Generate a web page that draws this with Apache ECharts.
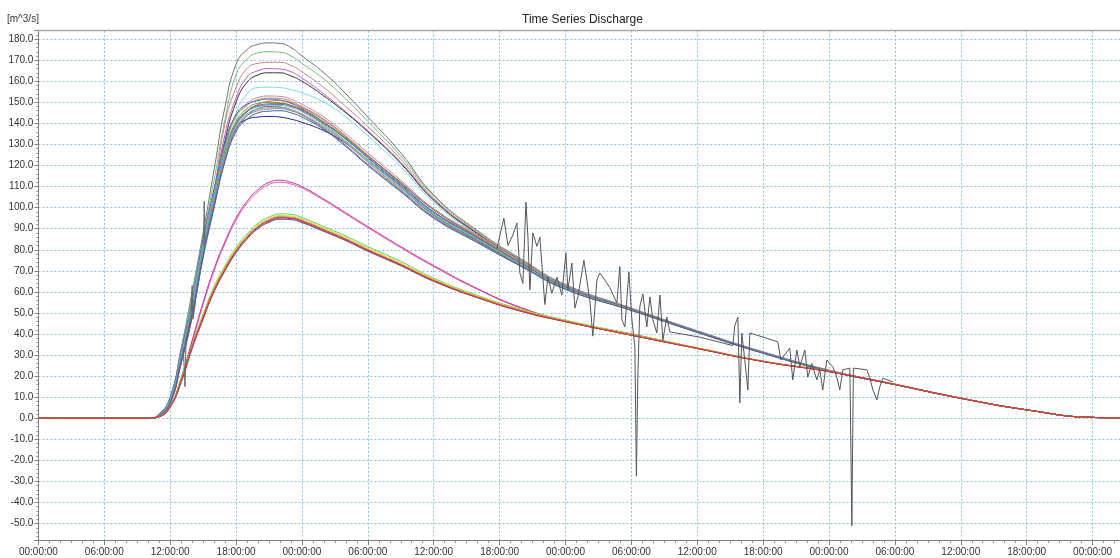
<!DOCTYPE html>
<html>
<head>
<meta charset="utf-8">
<script src="https://cdn.jsdelivr.net/npm/echarts@6/dist/echarts.min.js"></script>
<style>
html,body{margin:0;padding:0;background:#fff;}
#chart{width:1120px;height:558px;}
</style>
</head>
<body>
<div id="chart"></div>
<script>
// time in hours from start
const hours = [0,10,11,12,13,14,15,16,17,18,19,20,21,22,23,24,26,28,30,33,36,40,44,48,54,60,66,72,78,84,90,96,98.5];

// upper curves
const up178 = [0,0,2,10,33,60,88,118,148,168,175,177.5,178.2,178,176,172,164,154,143,126,106,89,75.5,63.5,52.3,41.5,31.5,22.8,16.2,9.6,4,0.4,0.2];
const up174 = [0,0,2,10,33,59,86,113,142,163,170.5,173.5,174,173.8,172,168.5,161,151.5,141,124.5,105.5,88.5,75.3,63.3,52.2,41.4,31.4,22.7,16.1,9.5,4,0.4,0.2];
const up169 = [0,0,1.5,9,31,56,83,108,140,157,166,168.5,169,169,167.5,164.5,157,148,138.5,123,104.5,88,75,63,52,41.3,31.3,22.7,16.1,9.5,4,0.4,0.2];
const up166 = [0,0,1.5,9,30,54,81,106,135,152,162,165,166,165.8,164.5,161.5,154,145.5,136.5,121.5,104,87.8,74.8,63,52,41.3,31.3,22.7,16.1,9.5,4,0.4,0.2];
const up164 = [0,0,1.3,8.5,29,53,80,105,132,150,159.5,163,164,164,162.5,160,153,145,136,121,103.5,87.5,74.5,62.8,51.9,41.2,31.2,22.6,16,9.5,4,0.4,0.2];
const up157 = [0,0,1.5,9,29,53,79,103,128,145,154,157,157.2,157,156,154.5,150,143,134,119.5,102.5,87,74.3,62.7,51.8,41.1,31.1,22.6,16,9.5,4,0.4,0.2];
const up143 = [0,0,1.4,8,28,50,79,104,126,137.5,142,143,143.3,143,142,140.5,136.5,130.5,122.5,110,96.5,84.5,72.5,61.7,51.5,41,31,22.5,16,9.5,4,0.4,0.2];

// main cluster
const main1  = [0,0,1.8,9,30,53,82,107,130,144,149.5,152.3,153,152.8,151.5,149,143,135,126,113,99.5,87,74.5,63,52,41.5,31.5,22.8,16.2,9.6,4,0.4,0.2];
const main2  = [0,0,1.5,8,29,52,81,106,129,143,148.5,151.3,152,151.8,150.5,148,142,134,125,112,99,86.5,74,62.5,52,41.3,31.3,22.7,16.1,9.5,4,0.4,0.2];
const main3  = [0,0,2,10,32,56,85,109,131,144,149,150.8,151.5,151,149.5,147,140.5,132.5,123.5,110.5,97.5,85.5,73.5,62.3,51.8,41.2,31.2,22.6,16,9.5,4,0.4,0.2];
const main4  = [0,0,1.2,7,26,48,77,102,125,139,145.5,149,150.5,150.8,149.8,147.5,141.5,133.5,124.5,111.5,98,86,73.5,62,51.7,41,31,22.5,16,9.5,4,0.4,0.2];
const main5  = [0,0,1.5,8,28,51,80,105,127,141,147,149.5,150,149.7,148.5,146,139.5,131.5,122.5,109.5,96.5,84.5,72.8,61.8,51.5,41,31,22.5,16,9.5,4,0.4,0.2];
const main6  = [0,0,1.3,7.5,27,49,78,103,126,140,146,148.5,149.3,149.5,148.5,146.5,140.5,133,124.5,112,99,86,73.5,62,51.6,41,31,22.5,16,9.5,4,0.4,0.2];
const main7  = [0,0,1.6,8.5,29,52,80,104,126,139.5,145.5,148,148.8,149,148,146,140,132.5,123.8,111,98,85.5,73.2,62,51.5,41,31,22.5,16,9.5,4,0.4,0.2];
const main8  = [0,0,1.4,8,27.5,50,78,102,124,138,144,147,148.2,148.5,147.5,145.5,139,131,122,109,96,84,72.5,61.5,51.3,40.8,30.9,22.4,16,9.5,4,0.4,0.2];
const main9  = [0,0,1.2,7,26,48,76,100,122.5,137,143.5,147,148,147.8,146.5,144,137.5,129.5,120.5,108,95.5,84,72.3,61.5,51.3,40.8,30.9,22.4,16,9.5,4,0.4,0.2];
const main10 = [0,0,1.7,9,30,54,82,105,126,139,144.5,146.8,147.4,147.5,146.5,144.5,138.5,131,122.5,110,97,85,73,61.8,51.4,40.9,31,22.5,16,9.5,4,0.4,0.2];
const main11 = [0,0,1.5,8,28,50,78,102,124,137.5,143.5,146,146.8,147,146,144,138,130.5,121.5,108.5,95.5,83.5,72,61.3,51.2,40.8,30.9,22.4,16,9.5,4,0.4,0.2];
const main12 = [0,0,1.3,7.5,27,49,77,100.5,122,136,142,145,145.8,146,145,143,137,129,120,107.5,95,83.3,72,61.2,51.2,40.8,30.9,22.4,16,9.5,4,0.4,0.2];

// pink pair
const pink113 = [0,0,0.8,6,19,37,55,71,84,95,103,108.5,112,113,112,110,104,97.5,91,81.5,72.5,61.5,52.5,46.3,40,33.3,27,22.2,16,9.5,4,0.4,0.2];
const pink112 = [0,0,0.8,6,18.5,36,54,70,83,94,102,107.5,111,112,111.2,109.3,103.5,97,90.5,81,72,61.2,52.2,46.2,40,33.3,27,22.2,16,9.5,4,0.4,0.2];

// lower cluster
const low97  = [0,0,1,6,19,35,49.5,62.5,72.5,81,87.5,92.5,95.5,97,96.8,95.3,91,86.5,81.5,74.5,66.5,58.3,51.7,46.6,40,33.5,27.2,22.3,16,9.5,4,0.4,0.2];
const low96  = [0,0,0.9,5.8,18.5,34.5,48.7,61.8,72,80.3,86.8,91.8,94.8,96.2,96,94.6,90.3,85.8,80.8,73.8,66,58,51.4,46.4,39.8,33.4,27.1,22.3,16,9.5,4,0.4,0.2];
const low95b = [0,0,0.8,5.5,18,34,48,61,71,79.5,86,91,94,95.5,95.2,93.8,89.5,85,80,73,65.5,57.5,51,46,39.5,33.2,27,22.2,16,9.5,4,0.4,0.2];
const low95r = [0,0,0.8,5.5,17.5,33.5,47.5,60.5,70.5,79,85.5,90.5,93.5,95,94.8,93.3,89,84.6,79.6,72.7,65.2,57.3,50.8,45.9,39.4,33.1,26.9,22.1,16,9.5,4,0.4,0.2];
const low94  = [0,0,0.7,5.2,17,33,47,60,70,78.5,85,90,93,94.5,94.3,92.9,88.7,84.3,79.3,72.4,65,57.2,50.7,45.8,39.4,33.1,26.9,22.1,16,9.5,4,0.4,0.2];
const low95o = [0,0,0.8,5.6,18,34,48,61,71.2,79.7,86.2,91.2,94.2,95.6,95.4,94,89.7,85.2,80.2,73.2,65.6,57.6,51.1,46.1,39.6,33.3,27,22.2,16,9.5,4,0.4,0.2];

// noisy observed-like curve (hours, values)
const riseNoiseHours  = [13.2,13.35,13.45,13.9,14.0,14.08,14.3,null,15.05,15.1,15.15];
const riseNoiseValues = [33,15,38,48,63,47,55,null,82,103,84];
const noisyHours = [41.75,42.39,42.76,43.21,43.58,43.85,44.12,44.40,44.58,44.76,45.03,45.40,45.67,46.12,46.40,46.76,47.22,47.67,48.04,48.22,48.58,48.86,49.13,49.68,49.95,50.22,50.49,50.86,51.13,51.40,52.04,52.68,52.95,53.14,53.41,53.77,54.05,54.32,54.46,54.59,54.77,55.05,55.41,55.69,55.96,56.32,56.60,56.87,57.23,57.51,60.24,63.24,63.42,63.70,63.88,64.06,64.33,64.61,64.79,67.34,67.61,68.43,68.70,69.07,69.34,69.80,70.07,70.43,70.89,71.16,71.43,71.80,72.07,72.35,72.71,72.98,73.26,73.90,74.08,74.22,75.45,75.72,76.00,76.36,76.63,76.90,77.81];
const noisyValues = [80.5,95,82,87,92.7,69,64,102.6,86,61,88,81.6,86,54,67,59.4,67,58.5,78.5,61,73.7,52.3,57.6,75,65.6,56,39,65.6,69,67,62,54.7,72,46.7,43.4,69.5,46.7,33.9,-27.5,20,53,59,43.4,57.6,46.7,40.5,58.5,37,48,41,38.5,34.5,44,48,7.3,40.4,27.7,13.4,40.5,36.3,27.7,33.3,18.2,32.4,24.5,32.4,19.5,26,18.2,23,13.4,27.7,26,24.5,19.5,13.4,23,23.8,-51,23.8,23,19,13.4,8.7,15,19,17.3];

const yTickLabelDigits = 1;

// draw order: pink first, then upper, main, lower on top
const curves = [
  ['pink112', pink112, '#e060c0'], ['pink113', pink113, '#c83090'],
  ['up178', up178, '#707070'], ['up174', up174, '#70c070'], ['up169', up169, '#d08080'],
  ['up166', up166, '#c060c0'], ['up164', up164, '#303030'], ['up157', up157, '#70e0e0'],
  ['up143', up143, '#2020a0'],
  ['main1', main1, '#c080c0'], ['main2', main2, '#a0a040'], ['main3', main3, '#6060c0'],
  ['main4', main4, '#c06060'], ['main5', main5, '#60a060'], ['main6', main6, '#a06030'],
  ['main7', main7, '#3080c0'], ['main8', main8, '#b0b0b0'], ['main9', main9, '#806080'],
  ['main10', main10, '#60c0c0'], ['main11', main11, '#a08080'], ['main12', main12, '#4060a0'],
  ['low97', low97, '#60d060'], ['low96', low96, '#d8d040'], ['low95b', low95b, '#202020'],
  ['low94', low94, '#3050e0'], ['low95o', low95o, '#f09030'], ['low95r', low95r, '#e03030']
];

const series = curves.map(([name, vals, color]) => ({
  type: 'line', name,
  data: hours.map((h, i) => [h, vals[i]]),
  smooth: 0.5,
  symbol: 'none', showSymbol: false,
  lineStyle: { width: 1, color },
  silent: true, animation: false
}));

series.push({
  type: 'line', name: 'riseNoise',
  data: riseNoiseHours.map((h, i) => h === null ? ['-', '-'] : [h, riseNoiseValues[i]]),
  symbol: 'none', showSymbol: false, connectNulls: false,
  lineStyle: { width: 1, color: '#666' }, silent: true, animation: false
});
series.push({
  type: 'line', name: 'noisy',
  data: noisyHours.map((h, i) => [h, noisyValues[i]]),
  symbol: 'none', showSymbol: false,
  lineStyle: { width: 1, color: '#555' }, silent: true, animation: false
});

const gridColor = '#8fbfdc';
const font = 'Liberation Sans, Arial, sans-serif';

const chart = echarts.init(document.getElementById('chart'), null, { renderer: 'canvas' });
chart.setOption({
  backgroundColor: '#ffffff',
  animation: false,
  title: {
    text: 'Time Series Discharge', left: 522, top: 14, padding: 0,
    textStyle: { fontSize: 12, fontWeight: 'normal', color: '#222', fontFamily: font }
  },
  graphic: [
    { type: 'text', left: 7, top: 14, style: { text: '[m^3/s]', fontSize: 10, fill: '#333', fontFamily: font } },
    { type: 'line', shape: { x1: 38, y1: 30.5, x2: 1120, y2: 30.5 }, style: { stroke: '#a8a8a8', lineWidth: 1.5 }, z: 100 }
  ],
  grid: { left: 38.4, right: 0, top: 30.7, bottom: 18, containLabel: false },
  xAxis: {
    type: 'value', min: 0, max: 98.5, interval: 6,
    axisLine: { show: true, onZero: false, lineStyle: { color: '#808080' } },
    axisTick: { show: true, length: 5, lineStyle: { color: '#808080' } },
    minorTick: { show: true, splitNumber: 6, length: 3, lineStyle: { color: '#909090' } },
    axisLabel: {
      fontSize: 10, color: '#333', margin: 7, fontFamily: font, showMaxLabel: false,
      formatter: v => { const hh = Math.round(v) % 24; return (hh < 10 ? '0' : '') + hh + ':00:00'; }
    },
    splitLine: { show: true, lineStyle: { color: gridColor, type: [2, 2], width: 1 } },
    minorSplitLine: { show: false }
  },
  yAxis: {
    type: 'value', min: -57.8, max: 184, splitNumber: 24, minInterval: 10, maxInterval: 10,
    axisLine: { show: true, onZero: false, lineStyle: { color: '#808080' } },
    axisTick: { show: true, length: 4, lineStyle: { color: '#808080' } },
    minorTick: { show: true, splitNumber: 5, length: 2, lineStyle: { color: '#909090' } },
    axisLabel: {
      fontSize: 10, color: '#333', margin: 5, fontFamily: font, showMinLabel: false, showMaxLabel: false,
      formatter: v => v.toFixed(yTickLabelDigits)
    },
    splitLine: { show: true, lineStyle: { color: gridColor, type: [2, 2], width: 1 } }
  },
  series
});
</script>
</body>
</html>
